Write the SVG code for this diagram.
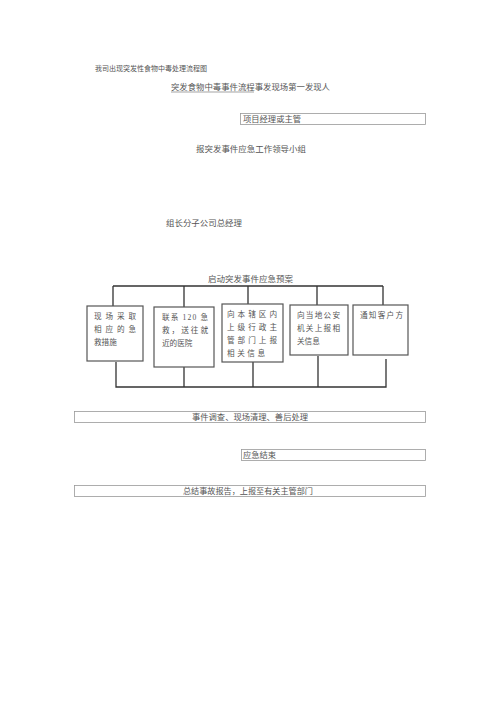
<svg xmlns="http://www.w3.org/2000/svg" width="500" height="707" viewBox="0 0 500 707">
<style>
text{font-family:"Liberation Serif","Noto Sans CJK SC",serif;fill:#555;font-size:8.2px}
.t{font-size:7px}
.bx{fill:none;stroke:#999;stroke-width:0.8}
.nb{fill:#fff;stroke:#555;stroke-width:1.2}
.ln{fill:none;stroke:#333;stroke-width:1.3}
.bt{font-size:7.6px}
</style>
<rect width="500" height="707" fill="#fff"/>
<g id="title"><text class="t" x="95" y="71">我司出现突发性食物中毒处理流程图</text></g>
<g id="first"><text x="171" y="90" textLength="159" lengthAdjust="spacingAndGlyphs">突发食物中毒事件流程事发现场第一发现人</text>
<line x1="171" y1="92" x2="254" y2="92" stroke="#666" stroke-width="0.6"/></g>
<g id="manager"><rect class="bx" x="240.5" y="113.5" width="185" height="11"/><text x="243" y="122" textLength="58" lengthAdjust="spacingAndGlyphs">项目经理或主管</text></g>
<g id="report"><text x="196" y="152" textLength="110" lengthAdjust="spacingAndGlyphs">报突发事件应急工作领导小组</text></g>
<g id="leader"><text x="166" y="226" textLength="76" lengthAdjust="spacingAndGlyphs">组长分子公司总经理</text></g>
<g id="plan"><text x="208" y="282" textLength="85" lengthAdjust="spacingAndGlyphs">启动突发事件应急预案</text></g>
<g id="connectors">
<path class="ln" d="M113 286H383M113 286V306M184 286V307M248 286V304M317 286V305M383 286V305"/>
<path class="ln" d="M116 362V387H386V359M184 367V387M253 362V387M318 356V387"/>
</g>
<g id="n1"><rect class="nb" x="87" y="306" width="56" height="55"/>
<text class="bt" x="94" y="319" textLength="42" lengthAdjust="spacing">现场采取</text>
<text class="bt" x="94" y="332" textLength="42" lengthAdjust="spacing">相应的急</text>
<text class="bt" x="94" y="345">救措施</text></g>
<g id="n2"><rect class="nb" x="154" y="307" width="60" height="60"/>
<text class="bt" x="162" y="320" textLength="46" lengthAdjust="spacing">联系 120 急</text>
<text class="bt" x="162" y="333" textLength="46" lengthAdjust="spacing">救，送往就</text>
<text class="bt" x="162" y="346">近的医院</text></g>
<g id="n3"><rect class="nb" x="222" y="304" width="61" height="58"/>
<text class="bt" x="227" y="317" textLength="50" lengthAdjust="spacing">向本辖区内</text>
<text class="bt" x="227" y="330" textLength="50" lengthAdjust="spacing">上级行政主</text>
<text class="bt" x="227" y="343" textLength="50" lengthAdjust="spacing">管部门上报</text>
<text class="bt" x="227" y="356" textLength="38" lengthAdjust="spacing">相关信息</text></g>
<g id="n4"><rect class="nb" x="290" y="305" width="58" height="50"/>
<text class="bt" x="297" y="318" textLength="43" lengthAdjust="spacing">向当地公安</text>
<text class="bt" x="297" y="331" textLength="43" lengthAdjust="spacing">机关上报相</text>
<text class="bt" x="297" y="344">关信息</text></g>
<g id="n5"><rect class="nb" x="353" y="305" width="55" height="50"/>
<text class="bt" x="360" y="318" textLength="43" lengthAdjust="spacing">通知客户方</text></g>
<g id="investigate"><rect class="bx" x="74.5" y="411.5" width="351" height="11"/><text x="250" y="420" text-anchor="middle" textLength="116" lengthAdjust="spacingAndGlyphs">事件调查、现场清理、善后处理</text></g>
<g id="end"><rect class="bx" x="241.5" y="449.5" width="184" height="11"/><text x="243" y="458" textLength="33" lengthAdjust="spacingAndGlyphs">应急结束</text></g>
<g id="summary"><rect class="bx" x="74.5" y="485.5" width="351" height="11"/><text x="248" y="494" text-anchor="middle" textLength="130" lengthAdjust="spacingAndGlyphs">总结事故报告，上报至有关主管部门</text></g>
</svg>
